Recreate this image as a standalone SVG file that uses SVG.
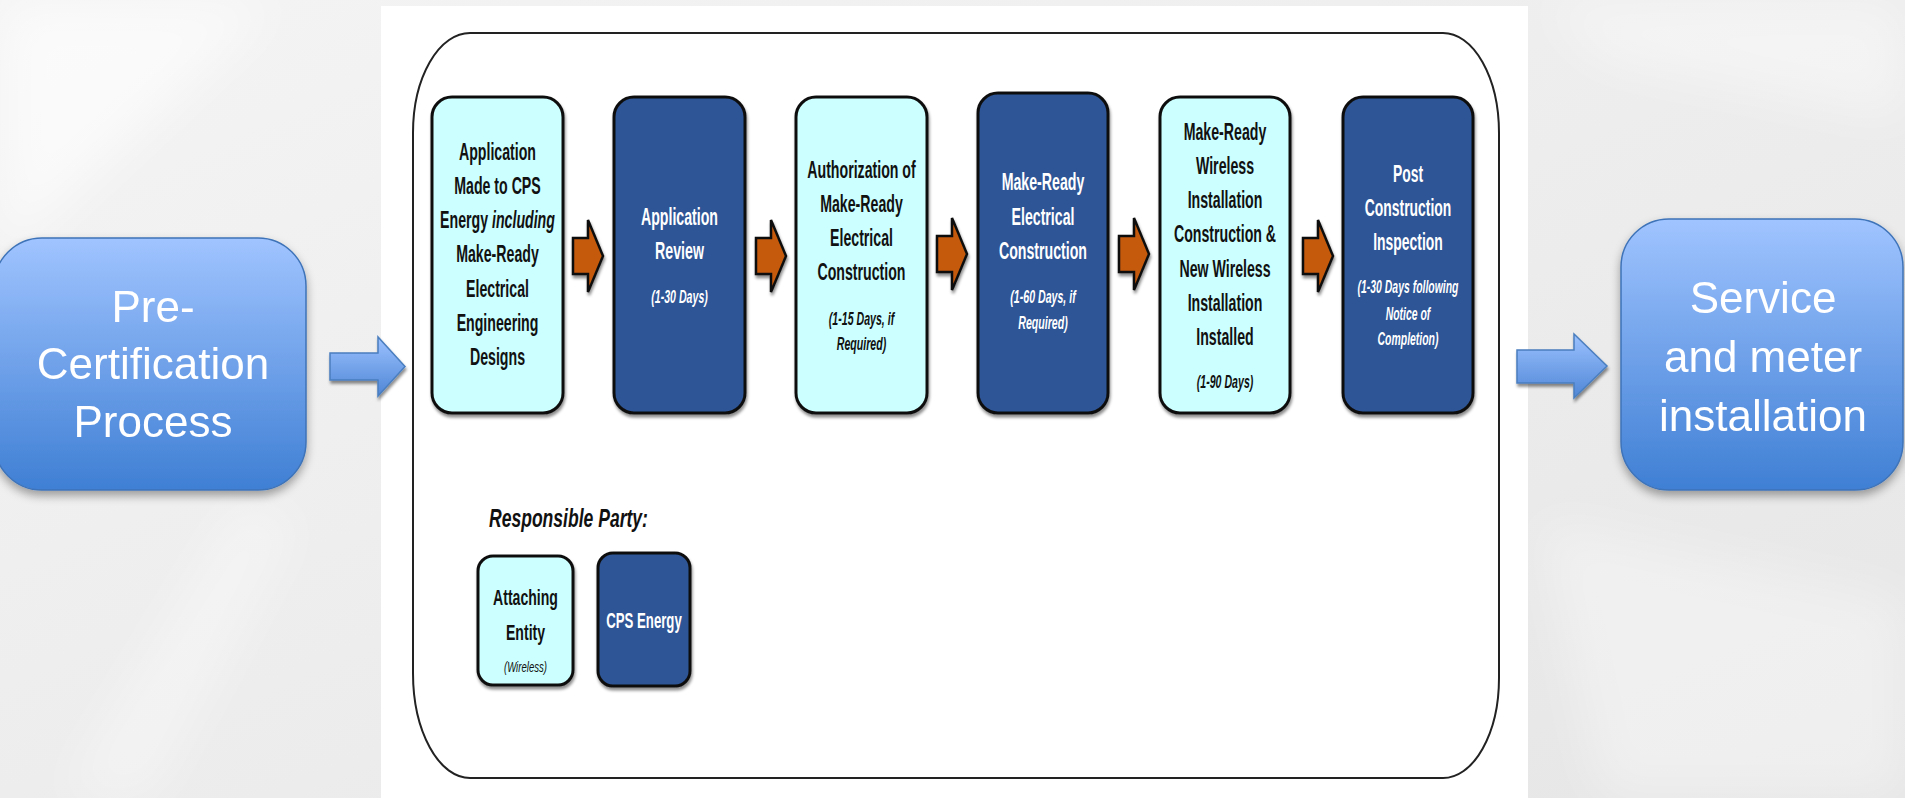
<svg xmlns="http://www.w3.org/2000/svg" width="1905" height="798" viewBox="0 0 1905 798">
<defs>
<style>
.bx{font-family:"Liberation Sans",Arial,sans-serif;font-weight:bold;font-size:24px;text-anchor:middle}
.it{font-family:"Liberation Sans",Arial,sans-serif;font-weight:bold;font-style:italic;font-size:18px;text-anchor:middle}
.lt{fill:#CCFFFF;stroke:#111;stroke-width:3}
.dk{fill:#2F5496;stroke:#111;stroke-width:3}
.tb{fill:#111}
.tw{fill:#fff}
.big{font-family:"Liberation Sans",Arial,sans-serif;font-size:44px;fill:#fff;text-anchor:middle}
.oa{fill:#C55A11;stroke:#111;stroke-width:2.5;stroke-linejoin:miter}
.ba{fill:url(#bg2);stroke:#4A7EBF;stroke-width:1.5}
</style>
<linearGradient id="bg1" x1="0" y1="0" x2="0" y2="1">
<stop offset="0" stop-color="#A0C4FF"/>
<stop offset="1" stop-color="#3F7FD4"/>
</linearGradient>
<linearGradient id="bg2" x1="0" y1="0" x2="0" y2="1">
<stop offset="0" stop-color="#9CC2FF"/>
<stop offset="1" stop-color="#4F86D6"/>
</linearGradient>
<linearGradient id="bgr" x1="0" y1="0" x2="1" y2="1">
<stop offset="0" stop-color="#F4F4F4"/>
<stop offset="0.5" stop-color="#EDEDED"/>
<stop offset="1" stop-color="#E6E6E6"/>
</linearGradient>
<filter id="sh" x="-20%" y="-20%" width="140%" height="140%">
<feDropShadow dx="1" dy="3" stdDeviation="1.5" flood-color="#000" flood-opacity="0.45"/>
</filter>
<filter id="sh2" x="-20%" y="-20%" width="140%" height="150%">
<feDropShadow dx="0" dy="5" stdDeviation="5" flood-color="#000" flood-opacity="0.35"/>
</filter>
<filter id="blur" x="-20%" y="-20%" width="140%" height="140%">
<feGaussianBlur stdDeviation="25"/>
</filter>
</defs>

<!-- background -->
<rect x="0" y="0" width="1905" height="798" fill="url(#bgr)"/>
<g filter="url(#blur)" fill="#fff">
<polygon points="0,0 280,0 0,260" opacity="0.6"/>
<polygon points="60,798 240,500 300,520 150,798" opacity="0.35"/>
<polygon points="1540,0 1905,0 1905,120 1600,60" opacity="0.4"/>
<polygon points="1540,520 1905,600 1905,798 1600,798" opacity="0.35"/>
</g>
<rect x="381" y="6" width="1147" height="792" fill="#fff"/>

<!-- container outline -->
<path d="M470,33 L1443,33 A56,100 0 0 1 1499,133 L1499,678 A56,100 0 0 1 1443,778 L470,778 A57,105 0 0 1 413,673 L413,133 A57,100 0 0 1 470,33 Z" fill="none" stroke="#222" stroke-width="2"/>

<!-- side nodes -->
<g id="pre-certification">
<rect x="-6" y="238" width="312" height="252" rx="48" ry="48" fill="url(#bg1)" stroke="#3E73B8" stroke-width="1.5" filter="url(#sh2)"/>
<text class="big" x="153" y="322">Pre-</text>
<text class="big" x="153" y="379">Certification</text>
<text class="big" x="153" y="437">Process</text>
</g>
<g id="service-meter">
<rect x="1621" y="219" width="282" height="271" rx="48" ry="48" fill="url(#bg1)" stroke="#3E73B8" stroke-width="1.5" filter="url(#sh2)"/>
<text class="big" x="1763" y="313">Service</text>
<text class="big" x="1763" y="372">and meter</text>
<text class="big" x="1763" y="431">installation</text>
</g>

<!-- step nodes -->
<g id="step1">
<rect class="lt" x="432" y="97" width="131" height="316" rx="20" filter="url(#sh)"/>
<g transform="translate(497.5,0) scale(0.59,1)" class="tb">
<text class="bx" x="0" y="160">Application</text>
<text class="bx" x="0" y="194">Made to CPS</text>
<text class="bx" x="0" y="228">Energy <tspan font-style="italic">including</tspan></text>
<text class="bx" x="0" y="262">Make-Ready</text>
<text class="bx" x="0" y="297">Electrical</text>
<text class="bx" x="0" y="331">Engineering</text>
<text class="bx" x="0" y="365">Designs</text>
</g>
</g>
<g id="step2">
<rect class="dk" x="614" y="97" width="131" height="316" rx="20" filter="url(#sh)"/>
<g transform="translate(679.5,0) scale(0.59,1)" class="tw">
<text class="bx" x="0" y="225">Application</text>
<text class="bx" x="0" y="259">Review</text>
<text class="it" x="0" y="303">(1-30 Days)</text>
</g>
</g>
<g id="step3">
<rect class="lt" x="796" y="97" width="131" height="316" rx="20" filter="url(#sh)"/>
<g transform="translate(861.5,0) scale(0.59,1)" class="tb">
<text class="bx" x="0" y="178">Authorization of</text>
<text class="bx" x="0" y="212">Make-Ready</text>
<text class="bx" x="0" y="246">Electrical</text>
<text class="bx" x="0" y="280">Construction</text>
<text class="it" x="0" y="325">(1-15 Days, if</text>
<text class="it" x="0" y="350">Required)</text>
</g>
</g>
<g id="step4">
<rect class="dk" x="978" y="93" width="130" height="320" rx="20" filter="url(#sh)"/>
<g transform="translate(1043,0) scale(0.59,1)" class="tw">
<text class="bx" x="0" y="190">Make-Ready</text>
<text class="bx" x="0" y="225">Electrical</text>
<text class="bx" x="0" y="259">Construction</text>
<text class="it" x="0" y="303">(1-60 Days, if</text>
<text class="it" x="0" y="329">Required)</text>
</g>
</g>
<g id="step5">
<rect class="lt" x="1160" y="97" width="130" height="316" rx="20" filter="url(#sh)"/>
<g transform="translate(1225,0) scale(0.59,1)" class="tb">
<text class="bx" x="0" y="140">Make-Ready</text>
<text class="bx" x="0" y="174">Wireless</text>
<text class="bx" x="0" y="208">Installation</text>
<text class="bx" x="0" y="242">Construction &amp;</text>
<text class="bx" x="0" y="277">New Wireless</text>
<text class="bx" x="0" y="311">Installation</text>
<text class="bx" x="0" y="345">Installed</text>
<text class="it" x="0" y="388">(1-90 Days)</text>
</g>
</g>
<g id="step6">
<rect class="dk" x="1343" y="97" width="130" height="316" rx="20" filter="url(#sh)"/>
<g transform="translate(1408,0) scale(0.58,1)" class="tw">
<text class="bx" x="0" y="182">Post</text>
<text class="bx" x="0" y="216">Construction</text>
<text class="bx" x="0" y="250">Inspection</text>
<text class="it" x="0" y="293">(1-30 Days following</text>
<text class="it" x="0" y="320">Notice of</text>
<text class="it" x="0" y="345">Completion)</text>
</g>
</g>

<!-- legend -->
<g id="legend-title">
<text transform="translate(489,527) scale(0.675,1)" x="0" y="0" font-family="Liberation Sans, Arial, sans-serif" font-weight="bold" font-style="italic" font-size="26" fill="#111">Responsible Party:</text>
</g>
<g id="legend-attaching">
<rect class="lt" x="478" y="556" width="95" height="129" rx="15" filter="url(#sh)"/>
<g transform="translate(525.5,0) scale(0.64,1)" class="tb">
<text class="bx" x="0" y="605" style="font-size:22px">Attaching</text>
<text class="bx" x="0" y="640" style="font-size:22px">Entity</text>
<text x="0" y="672" text-anchor="middle" font-family="Liberation Sans, Arial, sans-serif" font-style="italic" font-size="15">(Wireless)</text>
</g>
</g>
<g id="legend-cps">
<rect class="dk" x="598" y="553" width="92" height="133" rx="15" filter="url(#sh)"/>
<g transform="translate(644,0) scale(0.6,1)" class="tw">
<text class="bx" x="0" y="628" style="font-size:22px">CPS Energy</text>
</g>
</g>

<!-- connectors -->
<g id="connectors">
<polygon class="ba" points="330,353 378,353 378,337 405,366.5 378,396 378,380 330,380" filter="url(#sh)"/>
<polygon class="ba" points="1517,350 1574,350 1574,334 1607,366 1574,398 1574,383 1517,383" filter="url(#sh)"/>
<g filter="url(#sh)">
<polygon class="oa" points="573,238 588,238 588,220 603,256 588,292 588,274 573,274"/>
<polygon class="oa" points="756,238 771,238 771,220 786,256 771,292 771,274 756,274"/>
<polygon class="oa" points="937,236 952,236 952,218 967,254 952,290 952,272 937,272"/>
<polygon class="oa" points="1119,236 1134,236 1134,218 1149,254 1134,290 1134,272 1119,272"/>
<polygon class="oa" points="1303,238 1318,238 1318,220 1333,256 1318,292 1318,274 1303,274"/>
</g>
</g>
</svg>
